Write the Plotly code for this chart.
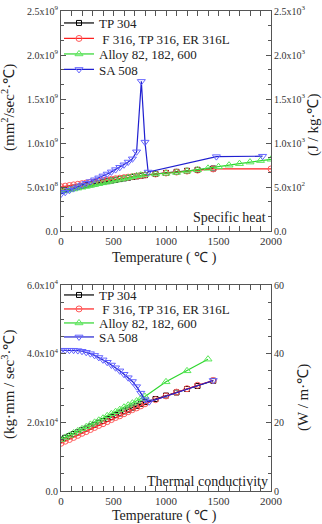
import plotly.graph_objects as go

W, H = 322, 524

# ---------------- data ----------------
# Specific heat, J/(kg·℃)  (plotted on left axis as mm²/sec²·℃ = ×1e6)
cp_tp304_T = [0, 40, 80, 120, 160, 200, 240, 280, 320, 360, 400, 440, 480, 520, 560, 600, 640, 680, 720, 760, 800,
              900, 1000, 1100, 1200, 1300, 1450]
cp_tp304 = [460, 471, 482, 492, 502, 512, 521, 530, 539, 548, 557, 566, 574, 582, 590, 598, 606, 614, 621, 628, 635,
            648, 660, 672, 684, 695, 710]

cp_f316_T = [0, 40, 80, 120, 160, 200, 240, 280, 320, 360, 400, 440, 480, 520, 560, 600, 640, 680, 720, 760, 800,
             900, 1000, 1100, 1200, 1300, 1450, 2000]
cp_f316 = [503, 510, 517, 524, 531, 538, 545, 552, 559, 566, 573, 580, 587, 594, 600, 606, 612, 618, 624, 630, 636,
           648, 659, 670, 681, 692, 705, 705]

cp_alloy_T = [0, 40, 80, 120, 160, 200, 240, 280, 320, 360, 400, 440, 480, 520, 560, 600, 640, 680, 720, 760, 800,
              900, 1000, 1100, 1200, 1300, 1400, 1500, 1600, 1700, 1800, 1900, 2000]
cp_alloy = [447, 457, 467, 477, 487, 497, 507, 517, 527, 537, 547, 557, 567, 577, 587, 597, 607, 617, 627, 635, 642,
            648, 655, 665, 680, 695, 712, 730, 748, 765, 783, 800, 815]

cp_sa508_T = [0, 40, 80, 120, 160, 200, 240, 280, 320, 360, 400, 440, 480, 520, 560, 600, 640, 680, 720,
              765, 800, 830, 1480, 1920]
cp_sa508 = [420, 440, 462, 482, 502, 522, 542, 562, 582, 604, 626, 648, 672, 698, 724, 752, 784, 820, 900,
            1700, 1010, 670, 845, 850]

# Thermal conductivity, W/(m·℃)  (plotted on left axis as kg·mm/sec³·℃ = ×1e3)
k_tp304_T = [0, 40, 80, 120, 160, 200, 240, 280, 320, 360, 400, 440, 480, 520, 560, 600, 640, 680, 720, 760, 800,
             900, 1000, 1100, 1200, 1300, 1450]
k_tp304 = [14.9, 15.5, 16.0, 16.6, 17.1, 17.7, 18.2, 18.8, 19.3, 19.9, 20.4, 21.0, 21.5, 22.1, 22.6, 23.2, 23.7,
           24.3, 24.8, 25.4, 25.9, 26.8, 27.8, 28.7, 29.7, 30.6, 32.1]

k_f316_T = [0, 40, 80, 120, 160, 200, 240, 280, 320, 360, 400, 440, 480, 520, 560, 600, 640, 680, 720, 760, 800,
            900, 1000, 1100, 1200, 1300, 1450]
k_f316 = [13.9, 14.5, 15.0, 15.6, 16.2, 16.8, 17.3, 17.9, 18.5, 19.1, 19.6, 20.2, 20.8, 21.4, 21.9, 22.5, 23.1,
          23.7, 24.2, 24.8, 25.4, 26.6, 27.7, 28.8, 29.8, 30.8, 32.2]

k_alloy_T = [0, 40, 80, 120, 160, 200, 240, 280, 320, 360, 400, 440, 480, 520, 560, 600, 640, 680, 720, 760, 800,
             1000, 1200, 1400]
k_alloy = [15.0, 15.6, 16.2, 16.9, 17.5, 18.1, 18.7, 19.4, 20.0, 20.6, 21.2, 21.9, 22.5, 23.1, 23.7, 24.4, 25.0,
           25.6, 26.2, 26.9, 27.5, 31.8, 35.0, 38.4]

k_sa508_T = [0, 40, 80, 120, 160, 200, 240, 280, 320, 360, 400, 440, 480, 520, 560, 600, 640, 680, 720, 760, 800,
             840, 1450]
k_sa508 = [41.0, 41.0, 41.0, 41.0, 40.9, 40.7, 40.4, 40.0, 39.5, 38.9, 38.2, 37.5, 36.7, 35.9, 35.0, 34.0, 33.0,
           31.9, 30.4, 28.5, 26.6, 26.0, 32.2]

names = ["TP 304", " F 316, TP 316, ER 316L", "Alloy 82, 182, 600", "SA 508"]
line_colors = ["#000000", "#ff2020", "#2ed62e", "#2020d0"]
marker_colors = ["#000000", "#ff5a5a", "#5ae85a", "#6464ff"]
symbols = ["square-open", "circle-open", "triangle-up-open", "triangle-down-open"]
marker_sizes = [5, 6, 7, 7]

top_x_ticks = [0, 500, 1000, 1500, 2000]
top_left_ticktext = ["0.0", "5.0x10<sup>8</sup>", "1.0x10<sup>9</sup>", "1.5x10<sup>9</sup>",
                     "2.0x10<sup>9</sup>", "2.5x10<sup>9</sup>"]
top_right_ticktext = ["0.0", "5.0x10<sup>2</sup>", "1.0x10<sup>3</sup>", "1.5x10<sup>3</sup>",
                      "2.0x10<sup>3</sup>", "2.5x10<sup>3</sup>"]
bot_left_ticktext = ["0.0", "2.0x10<sup>4</sup>", "4.0x10<sup>4</sup>", "6.0x10<sup>4</sup>"]
bot_right_ticktext = ["0", "20", "40", "60"]

FONT = "Liberation Serif"


def px(x):
    return x / W


def py(y):
    return 1 - y / H


fig = go.Figure()

cp_sets = [(cp_tp304_T, cp_tp304), (cp_f316_T, cp_f316), (cp_alloy_T, cp_alloy), (cp_sa508_T, cp_sa508)]
k_sets = [(k_tp304_T, k_tp304), (k_f316_T, k_f316), (k_alloy_T, k_alloy), (k_sa508_T, k_sa508)]

for i, (T, v) in enumerate(cp_sets):
    fig.add_trace(go.Scatter(
        x=T, y=[val * 1e6 for val in v], mode="lines+markers", name=names[i],
        xaxis="x", yaxis="y", legend="legend" if i == 0 else f"legend{i + 1}",
        line=dict(color=line_colors[i], width=1.2),
        marker=dict(symbol=symbols[i], size=marker_sizes[i], color=marker_colors[i],
                    line=dict(width=1, color=marker_colors[i])),
    ))
fig.add_trace(go.Scatter(x=[], y=[], xaxis="x", yaxis="y2", showlegend=False, hoverinfo="skip"))

for i, (T, v) in enumerate(k_sets):
    fig.add_trace(go.Scatter(
        x=T, y=[val * 1e3 for val in v], mode="lines+markers", name=names[i],
        xaxis="x2", yaxis="y3", legend=f"legend{i + 5}",
        line=dict(color=line_colors[i], width=1.2),
        marker=dict(symbol=symbols[i], size=marker_sizes[i], color=marker_colors[i],
                    line=dict(width=1, color=marker_colors[i])),
    ))
fig.add_trace(go.Scatter(x=[], y=[], xaxis="x2", yaxis="y4", showlegend=False, hoverinfo="skip"))

axis_common = dict(showgrid=False, zeroline=False, showline=True, linecolor="#555", linewidth=1,
                   ticks="inside", ticklen=5, tickcolor="#555", automargin=False)
tickfont_x = dict(family=FONT, size=11, color="#333")
tickfont_y = dict(family=FONT, size=10, color="#333")

xdom = [px(61), px(271)]
top_dom = [py(231), py(11)]
bot_dom = [py(491), py(285)]

top_minor = [i * 0.5e9 / 3 for i in range(16)]
bot_minor = [i * 0.5e4 for i in range(13)]

fig.update_layout(
    width=W, height=H,
    margin=dict(l=0, r=0, t=0, b=0),
    paper_bgcolor="white", plot_bgcolor="white",
    showlegend=True,
    xaxis=dict(axis_common, domain=xdom, anchor="y", range=[0, 2000], tickvals=top_x_ticks,
               tickfont=tickfont_x, mirror="allticks",
               minor=dict(dtick=100, tick0=0, ticks="inside", ticklen=3, tickcolor="#555")),
    yaxis=dict(axis_common, domain=top_dom, anchor="x", range=[0, 2.5e9],
               tickvals=[0, 0.5e9, 1.0e9, 1.5e9, 2.0e9, 2.5e9], ticktext=top_left_ticktext,
               tickfont=tickfont_y, mirror=True,
               minor=dict(tickvals=top_minor, ticks="inside", ticklen=3, tickcolor="#555")),
    yaxis2=dict(axis_common, overlaying="y", side="right", anchor="x", range=[0, 2500],
                tickvals=[0, 500, 1000, 1500, 2000, 2500], ticktext=top_right_ticktext,
                tickfont=tickfont_y,
                minor=dict(tickvals=[v / 1e6 for v in top_minor], ticks="inside", ticklen=3, tickcolor="#555")),
    xaxis2=dict(axis_common, domain=xdom, anchor="y3", range=[0, 2000], tickvals=top_x_ticks,
                tickfont=tickfont_x, mirror="allticks",
                minor=dict(dtick=100, tick0=0, ticks="inside", ticklen=3, tickcolor="#555")),
    yaxis3=dict(axis_common, domain=bot_dom, anchor="x2", range=[0, 6e4],
                tickvals=[0, 2e4, 4e4, 6e4], ticktext=bot_left_ticktext,
                tickfont=tickfont_y, mirror=True,
                minor=dict(tickvals=bot_minor, ticks="inside", ticklen=3, tickcolor="#555")),
    yaxis4=dict(axis_common, overlaying="y3", side="right", anchor="x2", range=[0, 60],
                tickvals=[0, 20, 40, 60], ticktext=bot_right_ticktext,
                tickfont=tickfont_y,
                minor=dict(tickvals=[v / 1e3 for v in bot_minor], ticks="inside", ticklen=3, tickcolor="#555")),
)

# one legend per entry so entries can sit as tightly as in the reference
legend_style = dict(x=px(59), xanchor="left", yanchor="middle", bgcolor="rgba(0,0,0,0)",
                    font=dict(family=FONT, size=13, color="#222"), borderwidth=0)
top_rows = [23, 38.5, 54, 69.5]
bot_rows = [295, 309, 323, 337]
legend_layout = {}
for i, yy in enumerate(top_rows):
    key = "legend" if i == 0 else f"legend{i + 1}"
    legend_layout[key] = dict(legend_style, y=py(yy))
for i, yy in enumerate(bot_rows):
    legend_layout[f"legend{i + 5}"] = dict(legend_style, y=py(yy))
fig.update_layout(**legend_layout)

title_font = dict(family=FONT, size=15, color="#222")
ann = [
    dict(text="(mm<sup>2</sup>/sec<sup>2</sup>·℃)", x=px(8), y=py(108), textangle=-90),
    dict(text="(J / kg·℃)", x=px(313), y=py(125), textangle=-90),
    dict(text="(kg·mm / sec<sup>3</sup>·℃)", x=px(8), y=py(385), textangle=-90),
    dict(text="(W / m·℃)", x=px(303), y=py(398), textangle=-90),
]
for a in ann:
    fig.add_annotation(xref="paper", yref="paper", showarrow=False, xanchor="center", yanchor="middle",
                       font=title_font, **a)

for yy in (258, 516):
    fig.add_annotation(text="Temperature ( ℃ )", xref="paper", yref="paper", x=px(164), y=py(yy),
                       xanchor="center", yanchor="middle", showarrow=False,
                       font=dict(family=FONT, size=14, color="#222"))

fig.add_annotation(text="Specific heat", xref="paper", yref="paper", x=px(268), y=py(218),
                   xanchor="right", yanchor="middle", showarrow=False,
                   font=dict(family=FONT, size=14, color="#222"))
fig.add_annotation(text="Thermal conductivity", xref="paper", yref="paper", x=px(270), y=py(481),
                   xanchor="right", yanchor="middle", showarrow=False,
                   font=dict(family=FONT, size=14, color="#222"))

fig.write_html("out.html")
